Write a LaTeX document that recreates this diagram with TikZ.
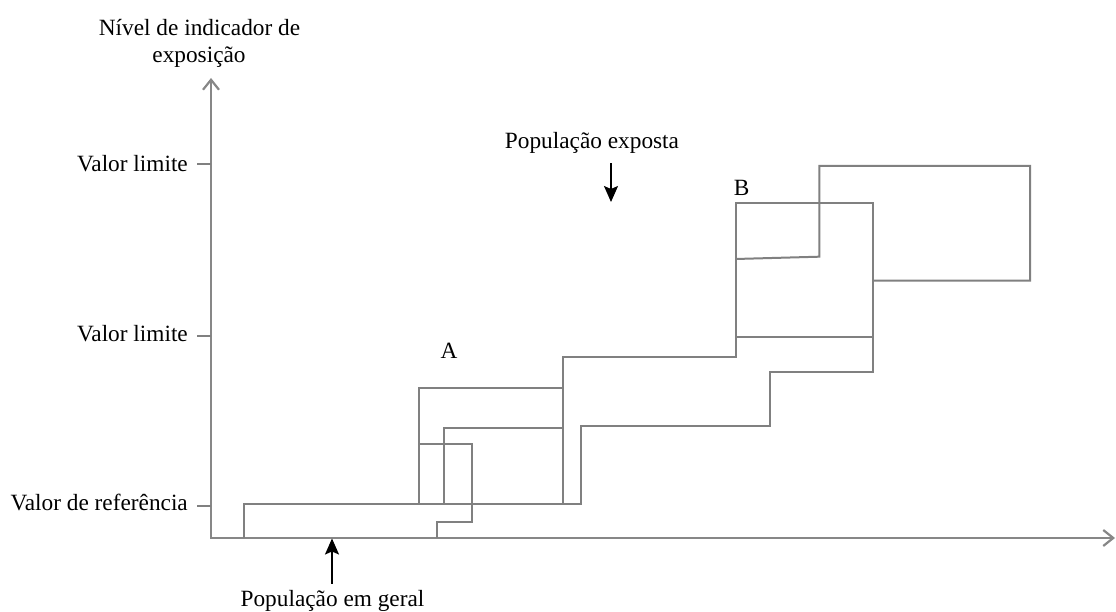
\documentclass[tikz,border=0pt]{standalone}
\usepackage{fontspec}
\setmainfont{Liberation Serif}
\usetikzlibrary{arrows.meta}
\definecolor{linegray}{RGB}{128,128,128}
\definecolor{axisgray}{RGB}{135,135,135}
\begin{document}
\begin{tikzpicture}[x=1pt,y=-1pt,
  ln/.style={draw=linegray, line width=2pt},
  axisline/.style={draw=axisgray, line width=2.2pt},
  lbl/.style={font=\fontsize{23.3}{27}\selectfont, inner sep=0pt},
  poparrow/.style={draw=black, line width=1.6pt, -{Stealth[length=16pt,width=14pt,inset=3pt]}},
]
\useasboundingbox (0,0) rectangle (1116,612);

% axes
\coordinate (ytop) at (211,78);
\coordinate (O) at (211,538);
\coordinate (xend) at (1115,538);
\draw[axisline, {Straight Barb[length=10pt,width=16pt]}-{Straight Barb[length=10pt,width=16pt]}] (ytop) -- (O) -- (xend);

% axis title
\node[lbl, anchor=base] (t1) at (199.5,35.5) {Nível de indicador de};
\node[lbl, anchor=base] (t2) at (199,62.7) {exposição};

% ticks and labels
\node[lbl, anchor=base east] (vl1) at (188,171.5) {Valor limite};
\node[lbl, anchor=base east] (vl2) at (188,341.7) {Valor limite};
\node[lbl, anchor=base east] (vr) at (188,510.5) {Valor de referência};
\coordinate (k1a) at (197,164.3); \coordinate (k1b) at (211,164.3);
\coordinate (k2a) at (197,336); \coordinate (k2b) at (211,336);
\coordinate (k3a) at (197,506); \coordinate (k3b) at (211,506);
\draw[ln] (k1a) -- (k1b);
\draw[ln] (k2a) -- (k2b);
\draw[ln] (k3a) -- (k3b);

% staircases
\draw[ln] (244,538) -- (244,504) -- (581,504) -- (581,426) -- (770,426) -- (770,371.5)
  -- (873,371.5) -- (873,203) -- (735.5,203) -- (735.5,356.7) -- (562.7,356.7) -- (562.7,504);
\draw[ln] (735.5,336.7) -- (873,336.7);
\draw[ln] (873,280.7) -- (1030,280.7) -- (1030,166) -- (819.3,166) -- (819.3,256.7) -- (735.5,259);
\draw[ln] (418.7,504) -- (418.7,387.7) -- (562.7,387.7);
\draw[ln] (443.7,504) -- (443.7,427.7) -- (562.7,427.7);
\draw[ln] (418.7,444) -- (472.3,444) -- (472.3,521.7) -- (437.3,521.7) -- (437.3,538);

% group labels
\node[lbl, anchor=base] (A) at (449,358.3) {A};
\node[lbl, anchor=base] (B) at (741.7,196) {B};

% population labels
\node[lbl, anchor=base] (pexp) at (592,148.3) {População exposta};
\coordinate (pe1) at (611,163.5);
\coordinate (pe2) at (611,202);
\draw[poparrow] (pe1) -- (pe2);

\node[lbl, anchor=base] (pger) at (332.5,606.7) {População em geral};
\coordinate (pg1) at (332,583.5);
\coordinate (pg2) at (332,538.5);
\draw[poparrow] (pg1) -- (pg2);
\end{tikzpicture}
\end{document}
